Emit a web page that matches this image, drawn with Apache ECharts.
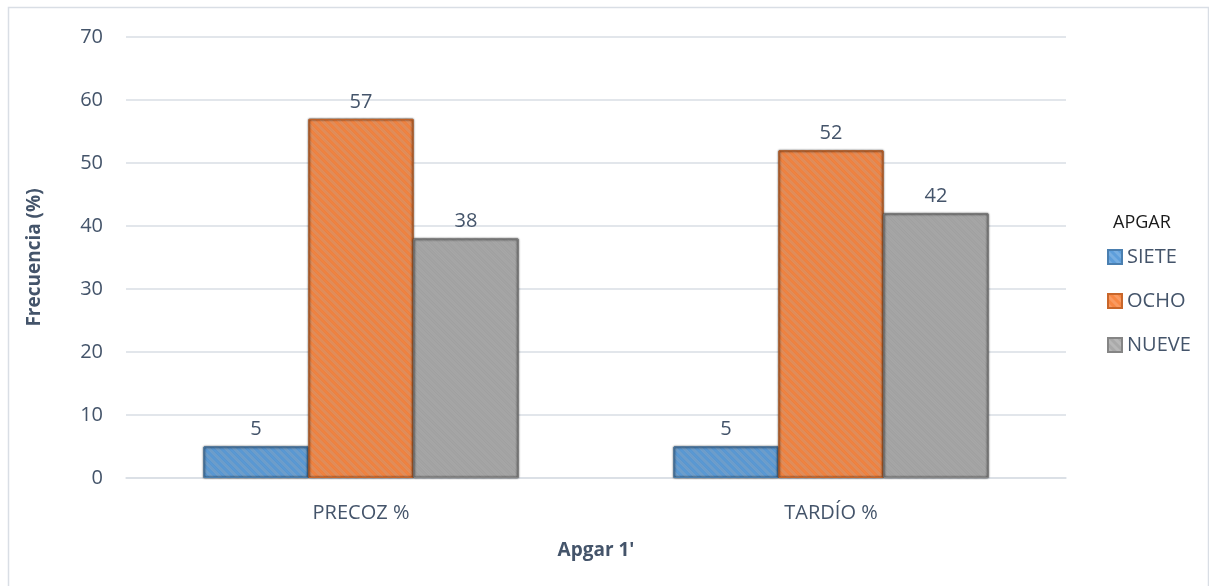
<!DOCTYPE html>
<html>
<head>
<meta charset="utf-8">
<script src="https://cdn.jsdelivr.net/npm/echarts@6/dist/echarts.min.js"></script>
<style>
  html, body { margin: 0; padding: 0; background: #fff; }
  #chart { width: 1209px; height: 586px; }
</style>
</head>
<body>
<div id="chart"></div>
<script>
// Apgar score at 1 minute, by clamping timing (percent of newborns)
const categories = ['PRECOZ %', 'TARDÍO %'];
const seriesNames = ['SIETE', 'OCHO', 'NUEVE'];
const siete = [5, 5];
const ocho = [57, 52];
const nueve = [38, 42];
const yTicks = { min: 0, max: 70, interval: 10 };

const FONT = '"Open Sans", "Noto Sans", sans-serif';
const TEXT = '#44546A';

const fills = ['#5D9EDB', '#F88743', '#A9A9A9'];
const edges = ['#4A7FB0', '#C8662A', '#858585'];

// diagonal hatch overlay, a light woven texture on each bar
const hatch = (c) => ({
  symbol: 'rect',
  symbolSize: 1,
  dashArrayX: [1, 0],
  dashArrayY: [3, 3],
  rotation: Math.PI / 4,
  color: c
});

function barSeries(name, data, i) {
  return {
    name: name,
    type: 'bar',
    data: data,
    barGap: '0%',
    barCategoryGap: '33%',
    itemStyle: {
      color: fills[i],
      borderColor: edges[i],
      borderWidth: 1,
      decal: hatch('rgba(255,255,255,0.16)'),
      shadowColor: 'rgba(0,0,0,0.15)',
      shadowBlur: 2
    },
    label: {
      show: true,
      position: 'top',
      distance: 7,
      color: TEXT,
      fontFamily: FONT,
      fontSize: 20
    }
  };
}

const chart = echarts.init(document.getElementById('chart'), null, { renderer: 'canvas' });
chart.setOption({
  animation: false,
  backgroundColor: '#ffffff',
  color: fills,
  graphic: [{
    type: 'rect',
    shape: { x: 8.5, y: 7.5, width: 1200, height: 590 },
    style: { fill: 'none', stroke: '#D9DEE5', lineWidth: 1.5 },
    silent: true
  }],
  title: {
    text: 'APGAR',
    left: 1108,
    top: 209,
    textStyle: { color: '#1a1a1a', fontFamily: FONT, fontSize: 18, fontWeight: 'normal' }
  },
  legend: {
    orient: 'vertical',
    left: 1107,
    top: 247,
    padding: 0,
    itemWidth: 14,
    itemHeight: 14,
    itemGap: 24,
    icon: 'rect',
    data: seriesNames,
    textStyle: { color: TEXT, fontFamily: FONT, fontSize: 20 }
  },
  grid: { left: 126, right: 143, top: 37, bottom: 108, containLabel: false },
  xAxis: {
    type: 'category',
    data: categories,
    name: "Apgar 1'",
    nameLocation: 'middle',
    nameGap: 63,
    nameTextStyle: { color: TEXT, fontFamily: FONT, fontSize: 19, fontWeight: 'bold' },
    axisLine: { show: true, lineStyle: { color: '#D9DEE5', width: 1.5 } },
    axisTick: { show: false },
    axisLabel: { color: TEXT, fontFamily: FONT, fontSize: 20, margin: 25 }
  },
  yAxis: {
    type: 'value',
    min: yTicks.min,
    max: yTicks.max,
    interval: yTicks.interval,
    name: 'Frecuencia (%)',
    nameLocation: 'middle',
    nameGap: 82,
    nameTextStyle: { color: TEXT, fontFamily: FONT, fontSize: 19, fontWeight: 'bold' },
    axisLine: { show: false },
    axisTick: { show: false },
    axisLabel: { color: TEXT, fontFamily: FONT, fontSize: 20, margin: 23 },
    splitLine: { lineStyle: { color: '#D9DEE5', width: 1.5 } }
  },
  series: [
    barSeries(seriesNames[0], siete, 0),
    barSeries(seriesNames[1], ocho, 1),
    barSeries(seriesNames[2], nueve, 2)
  ]
});
</script>
</body>
</html>
